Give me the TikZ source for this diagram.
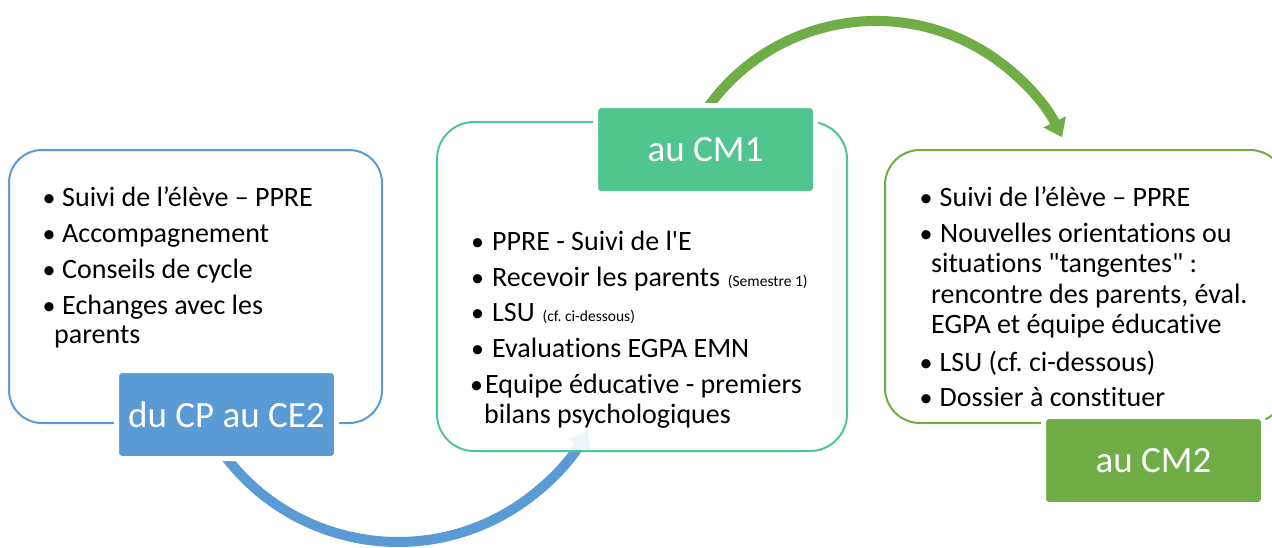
\documentclass[tikz,border=0pt]{standalone}
\usepackage{fontspec}
\newfontfamily\carl{Carlito}[Ligatures=NoCommon]
\usetikzlibrary{arrows.meta}
\definecolor{cblue}{HTML}{5B9BD5}
\definecolor{cmint}{HTML}{50C58F}
\definecolor{cgreen}{HTML}{70AD47}
\frenchspacing
\begin{document}
\begin{tikzpicture}[x=1pt,y=-1pt,
  frame/.style={draw, line width=2pt, fill=white, rectangle, inner sep=0},
  lab/.style={rectangle, rounded corners=5pt, draw=white, line width=5pt, text=white,
    font=\carl\fontsize{37}{44}\selectfont, minimum width=220pt, minimum height=88pt, inner sep=0},
  txt/.style={anchor=base west, inner sep=0, font=\carl\fontsize{28}{34}\selectfont},
  bul/.style={anchor=base, inner sep=0, font=\carl\fontsize{26}{34}\selectfont},
  small/.style={anchor=base west, inner sep=0, xshift=7.5pt, font=\carl\fontsize{15.5}{18}\selectfont},
  conn/.style={line width=10pt, -{Triangle[width=24pt,length=17pt]}}
]
\useasboundingbox (0,0) rectangle (1272,547);
\clip (0,0) rectangle (1272,547);

% box 1
\node[frame, draw=cblue, rounded corners=33pt, minimum width=373pt, minimum height=273pt] (box1) at (195.5,286.5) {};

% blue connector (behind box 2 and label 1)
\coordinate (a1s) at (218.1,446.3);
\draw[conn, cblue] (a1s) arc[start angle=146, end angle=29, radius=217];

% box 2
\node[frame, draw=cmint, fill opacity=0.9, rounded corners=37pt, minimum width=410pt, minimum height=329pt] (box2) at (642,286.5) {};

% green connector (behind label 2)
\coordinate (a2s) at (704.4,112.2);
\draw[conn, cgreen] (a2s) arc[start angle=-146, end angle=-26, radius=207];

% box 3
\node[frame, draw=cgreen, rounded corners=35pt, minimum width=400pt, minimum height=273pt] (box3) at (1085,286.5) {};

% labels
\node[lab, fill=cblue] (lab1) at (226.5,414.5) {du CP au CE2};
\node[lab, fill=cmint] (lab2) at (705.5,149.5) {au CM1};
\node[lab, fill=cgreen] (lab3) at (1153.5,460.5) {au CM2};

% box 1 text
\node[bul] (b1a) at (49,206) {•};
\node[txt] (t1a) at (62,206) {Suivi de l’élève – PPRE};
\node[bul] (b1b) at (49,242) {•};
\node[txt] (t1b) at (62,242) {Accompagnement};
\node[bul] (b1c) at (49,278) {•};
\node[txt] (t1c) at (62,278) {Conseils de cycle};
\node[bul] (b1d) at (49,314) {•};
\node[txt] (t1d) at (62,314) {Echanges avec les};
\node[txt] (t1e) at (54,343) {parents};

% box 2 text
\node[bul] (b2a) at (477.5,250) {•};
\node[txt] (t2a) at (492,250) {PPRE - Suivi de l'E};
\node[bul] (b2b) at (477.5,286) {•};
\node[txt] (t2b) at (492,286) {Recevoir les parents};
\node[small] (s2b) at (t2b.base east) {(Semestre 1)};
\node[bul] (b2c) at (477.5,321) {•};
\node[txt] (t2c) at (492,321) {LSU};
\node[small] (s2c) at (t2c.base east) {(cf. ci-dessous)};
\node[bul] (b2d) at (477.5,357) {•};
\node[txt] (t2d) at (492,357) {Evaluations EGPA EMN};
\node[bul] (b2e) at (476.5,393) {•};
\node[txt] (t2e) at (485,393) {Equipe éducative - premiers};
\node[txt] (t2f) at (484,423) {bilans psychologiques};

% box 3 text
\node[bul] (b3a) at (926,206) {•};
\node[txt] (t3a) at (939.5,206) {Suivi de l’élève – PPRE};
\node[bul] (b3b) at (926,242) {•};
\node[txt] (t3b) at (940,242) {Nouvelles orientations ou};
\node[txt] (t3c) at (931,272.5) {situations "tangentes" :};
\node[txt] (t3d) at (931,303.5) {rencontre des parents, éval.};
\node[txt] (t3e) at (931,333.5) {EGPA et équipe éducative};
\node[bul] (b3f) at (926,371) {•};
\node[txt] (t3f) at (939.5,371) {LSU (cf. ci-dessous)};
\node[bul] (b3g) at (926,406) {•};
\node[txt] (t3g) at (939.5,406) {Dossier à constituer};
\end{tikzpicture}
\end{document}
